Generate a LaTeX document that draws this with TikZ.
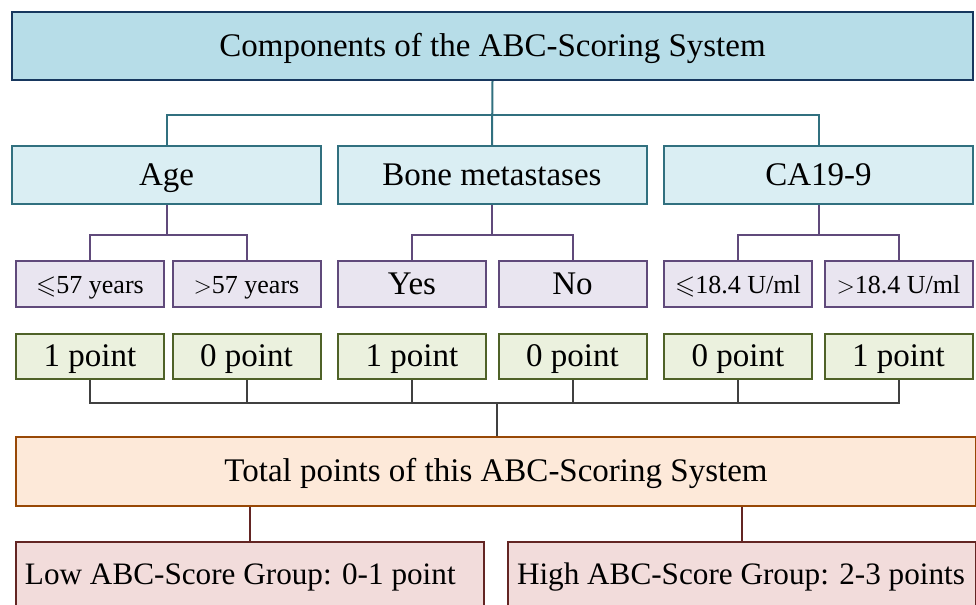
\documentclass[tikz,border=0pt]{standalone}
\usepackage{fontspec}
\usepackage{amssymb}
\setmainfont{Liberation Serif}

\definecolor{headfill}{HTML}{B7DDE8}
\definecolor{headline}{HTML}{17375E}
\definecolor{factfill}{HTML}{DAEEF3}
\definecolor{factline}{HTML}{31707F}
\definecolor{levelfill}{HTML}{E9E5F0}
\definecolor{levelline}{HTML}{604A7B}
\definecolor{pointfill}{HTML}{EBF1DE}
\definecolor{pointline}{HTML}{4F6228}
\definecolor{sumline}{HTML}{404040}
\definecolor{totalfill}{HTML}{FDE9D9}
\definecolor{totalline}{HTML}{984806}
\definecolor{groupfill}{HTML}{F2DCDB}
\definecolor{groupline}{HTML}{632523}

\begin{document}
\begin{tikzpicture}[x = 0.5pt, y = -0.5pt, font = \fontsize{16.5}{20}\selectfont,
    box/.style = {draw, line width = 1pt, inner sep = 0pt, text height = 11pt, text depth = 1pt},
    headbox/.style = {box, fill = headfill, draw = headline, line width = 1.2pt,
      minimum width = 480.5pt, minimum height = 34pt},
    factbox/.style = {box, fill = factfill, draw = factline, minimum width = 154.5pt, minimum height = 29pt},
    levelbox/.style = {box, fill = levelfill, draw = levelline, minimum width = 74pt, minimum height = 23pt},
    small/.style = {font = \fontsize{13}{15}\selectfont, text height = 10pt},
    pointbox/.style = {box, fill = pointfill, draw = pointline, minimum width = 74pt, minimum height = 22.5pt},
    totalbox/.style = {box, fill = totalfill, draw = totalline, minimum width = 480pt, minimum height = 34.5pt},
    groupbox/.style = {box, fill = groupfill, draw = groupline, anchor = north, text width = 225pt,
      align = flush left, inner xsep = 4.5pt, minimum height = 33.5pt, text height = 10.4pt,
      font = \fontsize{15.6}{19}\selectfont},
    wire/.style = {line width = 1pt}]
 \useasboundingbox (0,0) rectangle (976,605);

 % components
 \node[headbox] (head) at (492.5,46) {Components of the ABC-Scoring System};
 \node[factbox] (age) at (166.5,175) {Age};
 \node[factbox] (bone) at (492,175) {Bone metastases};
 \node[factbox] (ca) at (818.5,175) {CA19-9};

 % levels
 \node[levelbox, small] (le57) at (90,284) {$\leqslant$57 years};
 \node[levelbox, small] (gt57) at (246.5,284) {$>$57 years};
 \node[levelbox] (yes) at (412,284) {Yes};
 \node[levelbox] (no) at (572.5,284) {No};
 \node[levelbox, small] (le184) at (738,284) {$\leqslant$18.4 U/ml};
 \node[levelbox, small] (gt184) at (898.5,284) {$>$18.4 U/ml};

 % points
 \node[pointbox] (p1) at (90,356.5) {1 point};
 \node[pointbox] (p2) at (246.5,356.5) {0 point};
 \node[pointbox] (p3) at (412,356.5) {1 point};
 \node[pointbox] (p4) at (572.5,356.5) {0 point};
 \node[pointbox] (p5) at (738,356.5) {0 point};
 \node[pointbox] (p6) at (898.5,356.5) {1 point};

 % total and groups
 \node[totalbox] (total) at (496,471.5) {Total points of this ABC-Scoring System};
 \node[groupbox] (low) at (250,541) {Low ABC-Score Group: 0-1 point};
 \node[groupbox] (high) at (742,541) {High ABC-Score Group: 2-3 points};

 \coordinate (bus1) at (492,115);
 \coordinate (bus2) at (0,235);
 \coordinate (bus3) at (497,403);

 \draw[wire, factline] (head.south) -- (bone.north);
 \draw[wire, factline] (age.north) |- (bus1) -| (ca.north);

 \foreach \f/\a/\b in {age/le57/gt57, bone/yes/no, ca/le184/gt184}
  \draw[wire, levelline] (\f.south) -- (\f.south |- bus2)
    (\a.north) |- (\f.south |- bus2) -| (\b.north);

 \draw[wire, sumline] (p1.south) -- (p1.south |- bus3) -- (p6.south |- bus3) -- (p6.south);
 \foreach \p in {p2,p3,p4,p5}
  \draw[wire, sumline] (\p.south) -- (\p.south |- bus3);
 \draw[wire, sumline] (bus3) -- (total.north -| bus3);

 \draw[wire, groupline] (total.south -| low.north) -- (low.north);
 \draw[wire, groupline] (total.south -| high.north) -- (high.north);
\end{tikzpicture}
\end{document}
